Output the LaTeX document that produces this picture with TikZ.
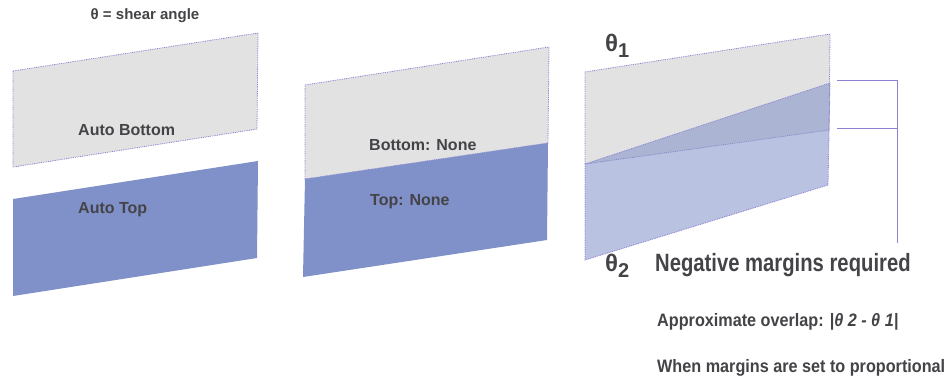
\documentclass[tikz,border=0pt]{standalone}
\usepackage{fontspec}
\setmainfont{Liberation Sans}
\definecolor{sgray}{RGB}{226,226,226}
\definecolor{sblue}{RGB}{128,144,200}
\definecolor{sedge}{RGB}{140,130,210}
\definecolor{stext}{RGB}{68,68,72}
\begin{document}
\begin{tikzpicture}[x=1pt,y=-1pt,
  grayface/.style={fill=sgray,draw=sedge,dash pattern=on 0.9pt off 0.9pt,line width=0.8pt},
  blueface/.style={fill=sblue},
  lightface/.style={fill=sblue,fill opacity=0.55,draw=sedge,dash pattern=on 0.9pt off 0.9pt,line width=0.8pt,draw opacity=1},
  brk/.style={draw=sedge,line width=1pt},
  lbl/.style={text=stext,font=\bfseries\fontsize{16}{18}\selectfont,anchor=west,inner sep=0pt},
  cond/.style={text=stext,anchor=west,inner sep=0pt}]
\useasboundingbox (0,0) rectangle (948,389);
\fill[white] (0,0) rectangle (948,389);
% panel 1
\draw[grayface] (13,71) -- (258,33) -- (257,129) -- (13,167) -- cycle;
\fill[blueface] (13,199) -- (258,161) -- (257,258) -- (13,296) -- cycle;
\node[lbl,anchor=center,font=\bfseries\fontsize{15}{17}\selectfont] (shear) at (145,16) {θ = shear angle};
\node[lbl] (ab) at (78,130) {Auto Bottom};
\node[lbl] (at) at (78,210) {Auto Top};
% panel 2
\draw[grayface] (305,85) -- (549,47) -- (548,143) -- (305,179) -- cycle;
\fill[blueface] (305,179) -- (548,143) -- (547,240) -- (303,277) -- cycle;
\node[lbl] (bn) at (369,145) {Bottom: None};
\node[lbl] (tn) at (370,202) {Top: None};
% panel 3
\draw[grayface] (585,72) -- (830,34) -- (829,130) -- (585,164) -- cycle;
\draw[lightface] (585,164) -- (830,83) -- (828,185) -- (585,260) -- cycle;
% bracket
\coordinate (b1) at (837,80);
\coordinate (b2) at (837,128);
\coordinate (bv1) at (897,80);
\coordinate (bv2) at (897,128);
\coordinate (bv3) at (897,243);
\draw[brk] (b1) -- (bv1) -- (bv3);
\draw[brk] (b2) -- (bv2);
\node[cond,font=\bfseries\fontsize{24}{26}\selectfont] (t1) at (605,46) {θ\raisebox{-6pt}{\fontsize{20}{22}\selectfont 1}};
\node[cond,font=\bfseries\fontsize{24}{26}\selectfont] (t2) at (605,266) {θ\raisebox{-6pt}{\fontsize{20}{22}\selectfont 2}};
\node[cond] (neg) at (655,265) {\scalebox{0.81}[1]{\bfseries\fontsize{25}{28}\selectfont Negative margins required}};
\node[cond] (ovl) at (657,322) {\scalebox{0.9}[1]{\bfseries\fontsize{18}{20}\selectfont Approximate overlap: \textit{|θ 2 - θ 1|}}};
\node[cond] (prop) at (657,368) {\scalebox{0.9}[1]{\bfseries\fontsize{18}{20}\selectfont When margins are set to proportional}};
\end{tikzpicture}
\end{document}
